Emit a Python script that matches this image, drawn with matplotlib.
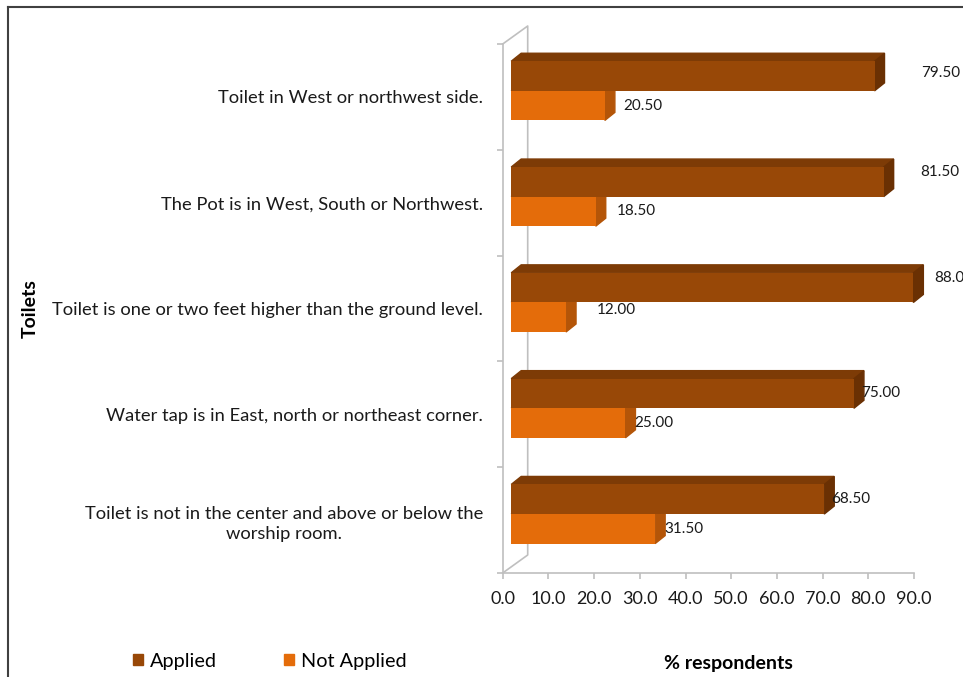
import matplotlib
matplotlib.use("Agg")
import matplotlib.pyplot as plt
from matplotlib.patches import Polygon, Patch
from matplotlib.lines import Line2D
import numpy as np

# data
categories = [
    "Toilet in West or northwest side.",
    "The Pot is in West, South or Northwest.",
    "Toilet is one or two feet higher than the ground level.",
    "Water tap is in East, north or northeast corner.",
    "Toilet is not in the center and above or below the\nworship room.",
]
applied = [79.50, 81.50, 88.00, 75.00, 68.50]
not_applied = [20.50, 18.50, 12.00, 25.00, 31.50]
series_names = ["Applied", "Not Applied"]
xticks = np.arange(0, 100, 10)

plt.rcParams['font.family'] = ['Lato', 'DejaVu Sans']

W_PX, H_PX = 963, 677
fig = plt.figure(figsize=(W_PX / 100, H_PX / 100), dpi=100)

# axes box in pixels (front plane of the fake 3d chart)
x0_px, x1_px, ytop_px, ybot_px = 502.7, 914.0, 44.0, 573.0
ax = fig.add_axes([x0_px / W_PX, 1 - ybot_px / H_PX,
                   (x1_px - x0_px) / W_PX, (ybot_px - ytop_px) / H_PX])
ax.set_xlim(0, 90)
ax.set_ylim(len(categories) - 0.5, -0.5)

sx = (x1_px - x0_px) / 90.0            # px per x unit
sy = (ybot_px - ytop_px) / len(categories)  # px per category

C_APP, C_APP_TOP, C_APP_SIDE = "#984807", "#7d3b06", "#6a3003"
C_NOT, C_NOT_SIDE = "#e46c0a", "#b45508"
GRID = "#bfbfbf"

# depth of bars and of back wall
bdx, bdy = 10 / sx, 8 / sy
wdx, wdy = 25 / sx, 18 / sy
left0 = 8.5 / sx
h = 0.28

pos = np.arange(len(categories))
ya = pos - 0.197
yo = pos + 0.082

def box3d(yc, vals, front, top, side, z):
    ax.barh(yc, vals, height=h, left=left0, color=front, zorder=z)
    for y, v in zip(yc, vals):
        t = y - h / 2
        ax.add_patch(Polygon([(left0, t), (left0 + v, t), (left0 + v + bdx, t - bdy),
                              (left0 + bdx, t - bdy)], closed=True, color=top,
                             zorder=z - 0.5, clip_on=False))
        ax.add_patch(Polygon([(left0 + v, t), (left0 + v + bdx, t - bdy),
                              (left0 + v + bdx, t + h - bdy), (left0 + v, t + h)],
                             closed=True, color=side, zorder=z - 0.5, clip_on=False))

box3d(yo, not_applied, C_NOT, C_NOT_SIDE, C_NOT_SIDE, 3)
box3d(ya, applied, C_APP, C_APP_TOP, C_APP_SIDE, 5)

# back wall edges
n = len(categories)
ax.add_line(Line2D([0, wdx, wdx, 0], [-0.5, -0.5 - wdy, n - 0.5 - wdy, n - 0.5],
                   color=GRID, lw=1.2, clip_on=False, zorder=1))

# value labels (Excel places them a bit irregularly)
nudge_app = [(47, 3.5), (37, 9.6), (21, 9.6), (7, 0), (7, 0)]
nudge_not = [(18, 0), (21, 0), (31, 7), (9, 0), (9, 0)]
for yc, vals, nud in [(ya, applied, nudge_app), (yo, not_applied, nudge_not)]:
    for y, v, (dx, dy) in zip(yc, vals, nud):
        ax.annotate(f"{v:.2f}", xy=(left0 + v, y), xytext=(dx, dy),
                    textcoords='offset pixels', va='center', ha='left',
                    fontsize=11, color='#1a1a1a', zorder=6, annotation_clip=False)

# axes styling
for s in ['top', 'right']:
    ax.spines[s].set_visible(False)
for s in ['left', 'bottom']:
    ax.spines[s].set_color(GRID)
    ax.spines[s].set_linewidth(1.2)

ax.set_xticks(xticks)
ax.set_xticklabels([f"{t:.1f}" for t in xticks], fontsize=13, color='#1a1a1a')
ax.tick_params(axis='x', length=4.3, color=GRID, width=1.2, pad=9)

ax.set_yticks(pos)
ax.set_yticklabels(categories, fontsize=13.2, color='#1a1a1a')
for lbl in ax.get_yticklabels():
    lbl.set_multialignment('center')
    lbl.set_linespacing(1.3)
ax.set_yticks(np.arange(-0.5, n, 1), minor=True)
ax.tick_params(axis='y', which='major', length=0, pad=14)
ax.tick_params(axis='y', which='minor', length=4.3, color=GRID, width=1.2)

fig.text(30 / W_PX, 1 - 309 / H_PX, "Toilets", rotation=90, fontsize=14,
         fontweight='bold', ha='center', va='center')
fig.text(728 / W_PX, 1 - 664 / H_PX, "% respondents", fontsize=14,
         fontweight='bold', ha='center', va='center')

handles = [Patch(color=C_APP), Patch(color=C_NOT)]
fig.legend(handles, series_names, loc='center left',
           bbox_to_anchor=(133 / W_PX, 1 - 661 / H_PX), ncol=2, frameon=False,
           fontsize=14.3, handlelength=0.5, handleheight=0.5, handletextpad=0.35,
           columnspacing=3.4, borderpad=0, borderaxespad=0)

# outer frame (only top and left visible in the crop)
fig.add_artist(Line2D([8 / W_PX, 8 / W_PX], [0, 1 - 7 / H_PX], color='#404040',
                      lw=1.5, transform=fig.transFigure))
fig.add_artist(Line2D([8 / W_PX, 1], [1 - 7 / H_PX, 1 - 7 / H_PX], color='#404040',
                      lw=1.5, transform=fig.transFigure))

fig.savefig("out.png", dpi=100)
